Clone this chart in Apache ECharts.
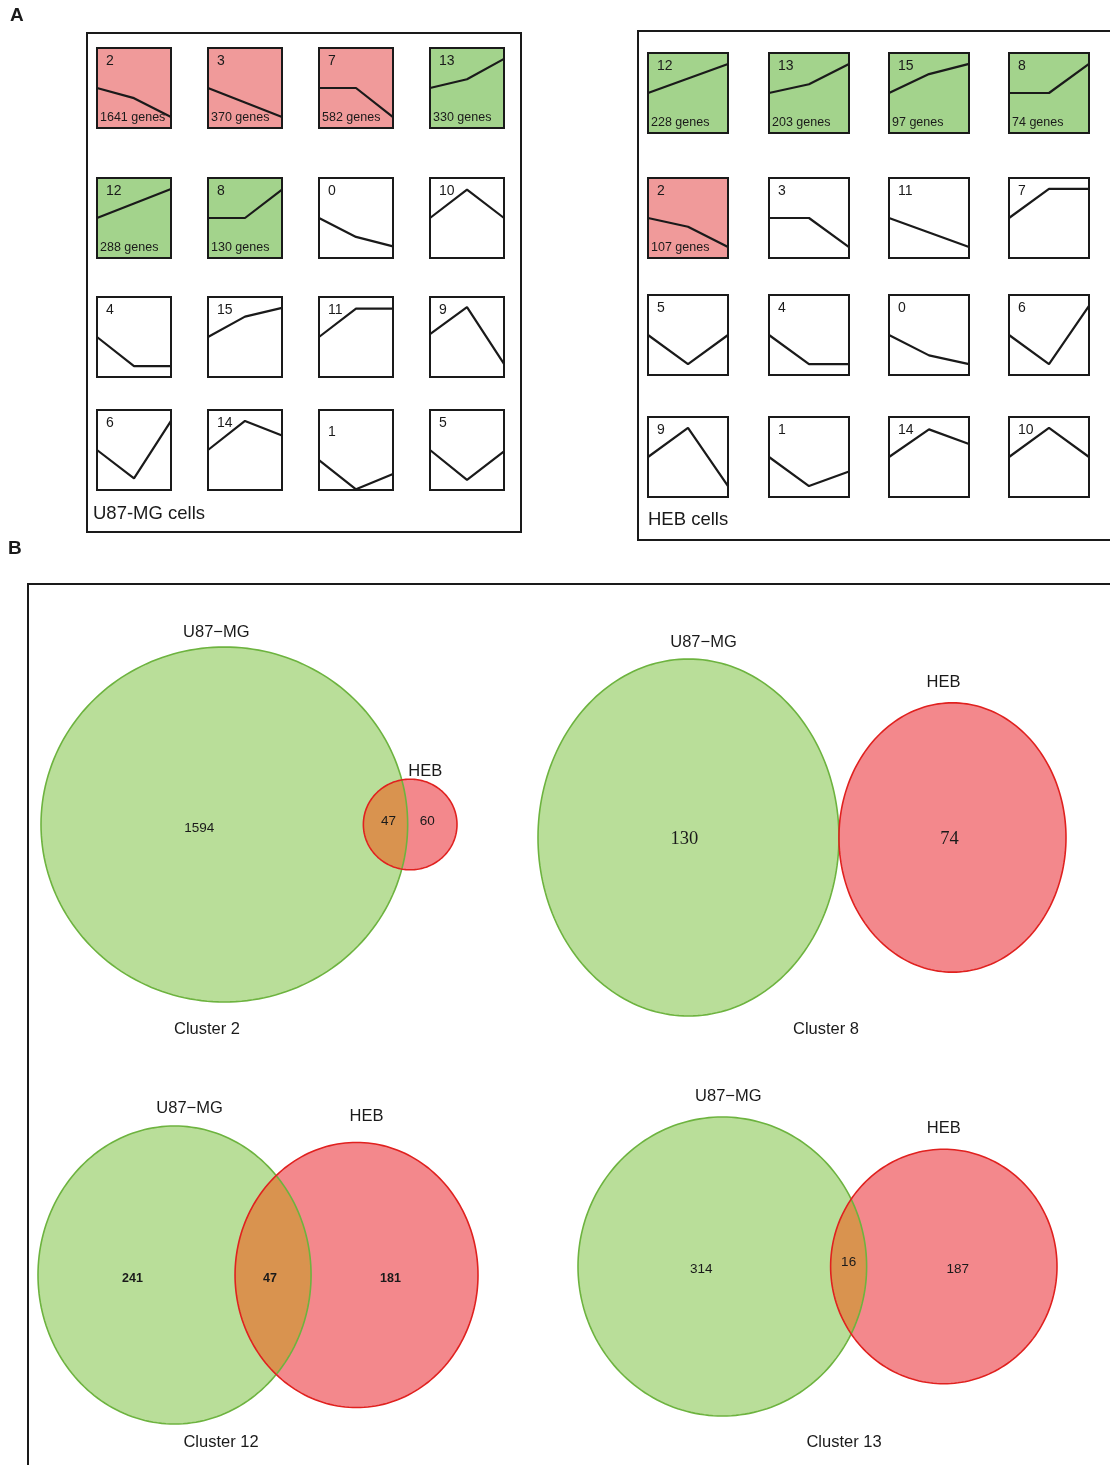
<!DOCTYPE html>
<html>
<head>
<meta charset="utf-8">
<script src="https://cdn.jsdelivr.net/npm/echarts@6/dist/echarts.min.js"></script>
<style>
  html, body { margin: 0; padding: 0; background: #fff; }
  #chart { width: 1110px; height: 1465px; }
</style>
</head>
<body>
<div id="chart"></div>
<script>
// ---------- Panel A: STEM temporal expression profiles (3 time points) ----------
const timePoints = [0, 1, 2];

const u87ProfileIds = [2, 3, 7, 13, 12, 8, 0, 10, 4, 15, 11, 9, 6, 14, 1, 5];
const u87Profiles = [
  [0, -0.7, -2], [0, -1, -2], [0, 0, -2], [0, 0.6, 2],
  [0, 1, 2], [0, 0, 1.95], [0, -1.3, -1.95], [0, 1.95, 0],
  [0, -2, -2], [0, 1.4, 2], [0, 1.95, 1.95], [0.2, 2.05, -1.85],
  [0, -1.95, 2], [0, 2, 1], [-0.7, -2.7, -1.65], [0, -2.05, -0.1]
];
const u87GeneCounts = [1641, 370, 582, 330, 288, 130, null, null,
                       null, null, null, null, null, null, null, null];

const hebProfileIds = [12, 13, 15, 8, 2, 3, 11, 7, 5, 4, 0, 6, 9, 1, 14, 10];
const hebProfiles = [
  [0, 1, 2], [0, 0.6, 2], [0, 1.3, 2], [0, 0, 2],
  [0, -0.6, -2], [0, 0, -2], [0, -1, -2], [0, 2, 2],
  [0, -2, 0], [0, -2, -2], [0, -1.4, -2], [0, -2, 2],
  [0, 2, -2], [0, -2, -1], [0, 1.9, 0.9], [0, 2, 0]
];
const hebGeneCounts = [228, 203, 97, 74, 107, null, null, null,
                       null, null, null, null, null, null, null, null];

const cellLines = ['U87-MG cells', 'HEB cells'];

// ---------- Panel B: overlap of significant clusters ----------
const vennClusters = ['Cluster 2', 'Cluster 8', 'Cluster 12', 'Cluster 13'];
const vennSetNames = ['U87\u2212MG', 'HEB'];
const u87Only = [1594, 130, 241, 314];
const hebOnly = [60, 74, 181, 187];
const sharedGenes = [47, 0, 47, 16];

// ---------- styles & layout ----------
const SANS = '"Liberation Sans", Arial, Helvetica, sans-serif';
const SERIF = '"Liberation Serif", "Times New Roman", serif';
const INK = '#1a1a1a';
const FILL_DOWN = '#f09a9a';
const FILL_UP = '#a3d38c';
const VENN_GREEN = '#b9de99', VENN_GREEN_EDGE = '#6db33f';
const VENN_RED = '#f3888c', VENN_RED_EDGE = '#e0211f';
const VENN_SHARED = '#d9934f';

const profileLayout = [
  { cols: [97, 208, 319, 430], rows: [48, 178, 297, 410], w: 74, h: 80, labelDrop: { 14: 9 } },
  { cols: [648, 769, 889, 1009], rows: [53, 178, 295, 417], w: 80, h: 80, labelDrop: {} }
];
// numShift: pixel nudges for [U87-only, HEB-only, shared] count labels
const vennLayout = [
  { left: 41, top: 647, width: 416, height: 355, num: { size: 13.5, family: SANS, weight: 'normal' },
    numShift: [[-3, 4], [-5, -3], [3, -3]],
    nameOffsets: [[-8, -15], [15, -8]], title: [207, 1029] },
  { left: 538, top: 659, width: 528, height: 357, num: { size: 18.5, family: SERIF, weight: 'normal' },
    numShift: [[-4, 2], [-3, 2], [0, 0]],
    nameOffsets: [[15, -17], [-9, -20]], title: [826, 1029] },
  { left: 38, top: 1126, width: 440, height: 298, num: { size: 12.5, family: SANS, weight: 'bold' },
    numShift: [[-4, 4], [-4, 4], [-3, 4]],
    nameOffsets: [[15, -18], [10, -26]], title: [221, 1442] },
  { left: 578, top: 1117, width: 479, height: 299, num: { size: 13.5, family: SANS, weight: 'normal' },
    numShift: [[-3, 3], [-4, 3], [0, -4]],
    nameOffsets: [[6, -21], [0, -21]], title: [844, 1442] }
];

// ---------- area-proportional Venn geometry ----------
function lensArea(r1, r2, d) {
  if (d >= r1 + r2) return 0;
  if (d <= Math.abs(r1 - r2)) return Math.PI * Math.min(r1, r2) ** 2;
  const a1 = Math.acos((d * d + r1 * r1 - r2 * r2) / (2 * d * r1));
  const a2 = Math.acos((d * d + r2 * r2 - r1 * r1) / (2 * d * r2));
  const k = Math.sqrt((-d + r1 + r2) * (d + r1 - r2) * (d - r1 + r2) * (d + r1 + r2));
  return r1 * r1 * a1 + r2 * r2 * a2 - 0.5 * k;
}
function centreDistance(r1, r2, overlap) {
  if (overlap <= 0) return r1 + r2;
  let lo = Math.abs(r1 - r2), hi = r1 + r2;
  for (let i = 0; i < 80; i++) {
    const mid = (lo + hi) / 2;
    if (lensArea(r1, r2, mid) > overlap) lo = mid; else hi = mid;
  }
  return (lo + hi) / 2;
}
const vennGeom = vennClusters.map((_, i) => {
  const nA = u87Only[i] + sharedGenes[i];
  const nB = hebOnly[i] + sharedGenes[i];
  const rA = Math.sqrt(nA / Math.PI), rB = Math.sqrt(nB / Math.PI);
  return { rA, rB, d: centreDistance(rA, rB, sharedGenes[i]) };
});

function ring(api, cx, r) {
  const pts = [];
  const n = 200;
  for (let k = 0; k < n; k++) {
    const t = (k / n) * Math.PI * 2;
    pts.push(api.coord([cx + r * Math.cos(t), r * Math.sin(t)]));
  }
  return pts;
}
function signedArea(poly) {
  let s = 0;
  for (let i = 0; i < poly.length; i++) {
    const a = poly[i], b = poly[(i + 1) % poly.length];
    s += a[0] * b[1] - b[0] * a[1];
  }
  return s / 2;
}
// Sutherland–Hodgman clipping of one polygon against a convex one
function clipConvex(subject, clip) {
  let out = subject;
  const sign = signedArea(clip) > 0 ? 1 : -1;
  for (let i = 0; i < clip.length && out.length; i++) {
    const a = clip[i], b = clip[(i + 1) % clip.length];
    const inside = p => sign * ((b[0] - a[0]) * (p[1] - a[1]) - (b[1] - a[1]) * (p[0] - a[0])) >= 0;
    const cross = (p, q) => {
      const a1 = b[1] - a[1], b1 = a[0] - b[0], c1 = a1 * a[0] + b1 * a[1];
      const a2 = q[1] - p[1], b2 = p[0] - q[0], c2 = a2 * p[0] + b2 * p[1];
      const det = a1 * b2 - a2 * b1;
      return [(b2 * c1 - b1 * c2) / det, (a1 * c2 - a2 * c1) / det];
    };
    const input = out;
    out = [];
    for (let j = 0; j < input.length; j++) {
      const cur = input[j], prev = input[(j + input.length - 1) % input.length];
      const cIn = inside(cur), pIn = inside(prev);
      if (cIn) { if (!pIn) out.push(cross(prev, cur)); out.push(cur); }
      else if (pIn) out.push(cross(prev, cur));
    }
  }
  return out;
}

function txt(x, y, text, font, align, vAlign, fill) {
  return {
    type: 'text', x, y, silent: true,
    style: { text, font, fill: fill || INK, align, verticalAlign: vAlign,
             textAlign: align, textVerticalAlign: vAlign }
  };
}

// ---------- build option ----------
const grids = [], xAxes = [], yAxes = [], series = [], graphics = [];

const panels = [
  { ids: u87ProfileIds, values: u87Profiles, genes: u87GeneCounts },
  { ids: hebProfileIds, values: hebProfiles, genes: hebGeneCounts }
];
panels.forEach((panel, p) => {
  const lay = profileLayout[p];
  panel.ids.forEach((id, k) => {
    const left = lay.cols[k % 4], top = lay.rows[Math.floor(k / 4)];
    const vals = panel.values[k];
    const n = panel.genes[k];
    const fill = n == null ? '#ffffff' : (vals[vals.length - 1] > 0 ? FILL_UP : FILL_DOWN);
    const gi = grids.length;
    grids.push({ left, top, width: lay.w, height: lay.h, show: true,
                 backgroundColor: fill, borderColor: INK, borderWidth: 2 });
    xAxes.push({ gridIndex: gi, type: 'value', min: 0, max: 2, show: false });
    yAxes.push({ gridIndex: gi, type: 'value', min: -2.75, max: 2.75, show: false });
    series.push({
      type: 'line', xAxisIndex: gi, yAxisIndex: gi, symbol: 'none', silent: true,
      lineStyle: { color: INK, width: 2.2 },
      data: timePoints.map((t, j) => [t, vals[j]])
    });
    const drop = lay.labelDrop[k] || 0;
    graphics.push(txt(left + 9, top + 6 + drop, String(id), '14px ' + SANS, 'left', 'top'));
    if (n != null) {
      graphics.push(txt(left + 3, top + lay.h - 10, n + ' genes', '12.5px ' + SANS, 'left', 'middle'));
    }
  });
});

vennClusters.forEach((name, i) => {
  const lay = vennLayout[i];
  const g = vennGeom[i];
  const R = Math.max(g.rA, g.rB);
  const gi = grids.length;
  grids.push({ left: lay.left, top: lay.top, width: lay.width, height: lay.height });
  xAxes.push({ gridIndex: gi, type: 'value', min: -g.rA, max: g.d + g.rB, show: false });
  yAxes.push({ gridIndex: gi, type: 'value', min: -R, max: R, show: false });
  series.push({
    type: 'custom', xAxisIndex: gi, yAxisIndex: gi, silent: true,
    data: [[0, 0]],
    renderItem: (params, api) => {
      const A = ring(api, 0, g.rA);
      const B = ring(api, g.d, g.rB);
      const lens = sharedGenes[i] > 0 ? clipConvex(A, B) : [];
      const numFont = lay.num.weight + ' ' + lay.num.size + 'px ' + lay.num.family;
      const children = [
        { type: 'polygon', shape: { points: A }, style: { fill: VENN_GREEN } },
        { type: 'polygon', shape: { points: B }, style: { fill: VENN_RED } }
      ];
      if (lens.length > 2) {
        children.push({ type: 'polygon', shape: { points: lens }, style: { fill: VENN_SHARED } });
      }
      children.push(
        { type: 'polygon', shape: { points: A }, style: { fill: 'none', stroke: VENN_GREEN_EDGE, lineWidth: 1.6 } },
        { type: 'polygon', shape: { points: B }, style: { fill: 'none', stroke: VENN_RED_EDGE, lineWidth: 1.6 } }
      );
      // region counts, centred along the line joining the two centres
      const ov = sharedGenes[i] > 0;
      const xA = ov ? (-g.rA + (g.d - g.rB)) / 2 : 0;
      const xB = ov ? (g.rA + g.d + g.rB) / 2 : g.d;
      const pA = api.coord([xA, 0]), pB = api.coord([xB, 0]);
      const sh = lay.numShift;
      children.push(txt(pA[0] + sh[0][0], pA[1] + sh[0][1], String(u87Only[i]), numFont, 'center', 'middle'));
      children.push(txt(pB[0] + sh[1][0], pB[1] + sh[1][1], String(hebOnly[i]), numFont, 'center', 'middle'));
      if (ov) {
        const pS = api.coord([(g.d - g.rB + g.rA) / 2, 0]);
        children.push(txt(pS[0] + sh[2][0], pS[1] + sh[2][1], String(sharedGenes[i]), numFont, 'center', 'middle'));
      }
      // set names above each circle
      const tA = api.coord([0, g.rA]), tB = api.coord([g.d, g.rB]);
      children.push(txt(tA[0] + lay.nameOffsets[0][0], tA[1] + lay.nameOffsets[0][1],
                        vennSetNames[0], '16.5px ' + SANS, 'center', 'middle'));
      children.push(txt(tB[0] + lay.nameOffsets[1][0], tB[1] + lay.nameOffsets[1][1],
                        vennSetNames[1], '16.5px ' + SANS, 'center', 'middle'));
      return { type: 'group', children };
    }
  });
  graphics.push(txt(lay.title[0], lay.title[1], name, '16.5px ' + SANS, 'center', 'middle'));
});

// frames and panel letters
graphics.push(
  { type: 'rect', shape: { x: 87, y: 33, width: 434, height: 499 }, silent: true,
    style: { fill: 'none', stroke: INK, lineWidth: 2 } },
  { type: 'rect', shape: { x: 638, y: 31, width: 500, height: 509 }, silent: true,
    style: { fill: 'none', stroke: INK, lineWidth: 2 } },
  { type: 'rect', shape: { x: 28, y: 584, width: 1120, height: 940 }, silent: true,
    style: { fill: 'none', stroke: INK, lineWidth: 2 } },
  txt(93, 514, cellLines[0], '18.5px ' + SANS, 'left', 'middle'),
  txt(648, 520, cellLines[1], '18.5px ' + SANS, 'left', 'middle'),
  txt(10, 16, 'A', 'bold 19px ' + SANS, 'left', 'middle'),
  txt(8, 549, 'B', 'bold 19px ' + SANS, 'left', 'middle')
);

const chart = echarts.init(document.getElementById('chart'));
chart.setOption({
  animation: false,
  backgroundColor: '#ffffff',
  grid: grids,
  xAxis: xAxes,
  yAxis: yAxes,
  series,
  graphic: { elements: graphics }
});
</script>
</body>
</html>
